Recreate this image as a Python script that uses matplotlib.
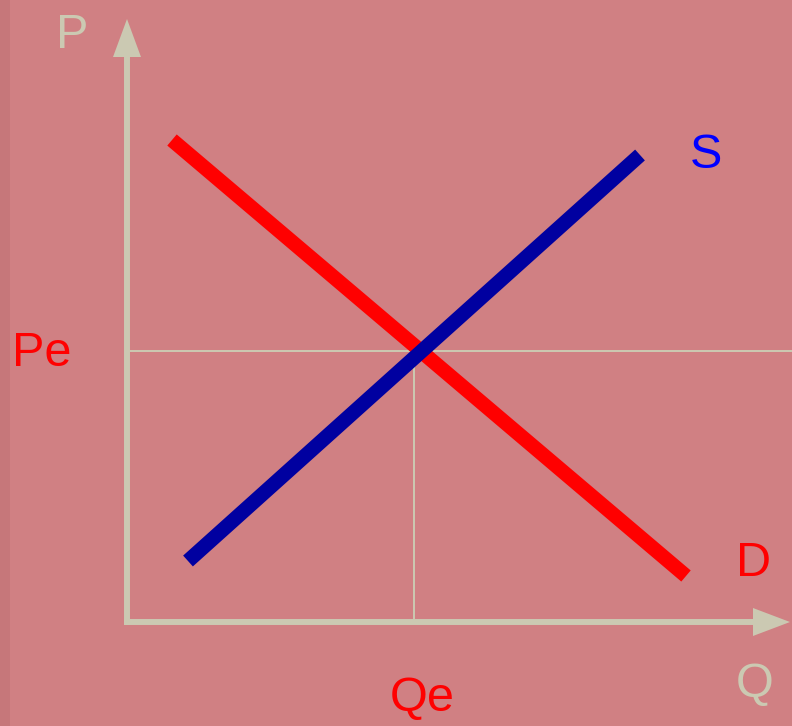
import matplotlib.pyplot as plt
from matplotlib.patches import Polygon

# chart coordinates (pixel-like units, y grows downward)
demand_q = [172, 686]
demand_p = [140, 576]
supply_q = [188, 640]
supply_p = [561, 155]
eq_q = 414
eq_p = 351
origin = (127, 622)

axis_color = "#cbc9b2"
bg = "#d08083"

fig = plt.figure(figsize=(7.92, 7.26), dpi=100)
fig.patch.set_facecolor(bg)
ax = fig.add_axes([0, 0, 1, 1])
ax.set_facecolor(bg)
ax.set_xlim(0, 792)
ax.set_ylim(726, 0)
ax.axis("off")

# slightly darker left edge
ax.axvspan(0, 10, color="#b86a6d", alpha=0.4, lw=0)

# axes with arrow heads
ax.plot([origin[0], origin[0]], [origin[1] + 3, 50], color=axis_color, lw=4.3, solid_capstyle="butt")
ax.plot([origin[0] - 3, 760], [origin[1], origin[1]], color=axis_color, lw=4.3, solid_capstyle="butt")
ax.add_patch(Polygon([[127, 19], [113, 57], [141, 57]], closed=True, color=axis_color, lw=0))
ax.add_patch(Polygon([[790, 622], [753, 608], [753, 636]], closed=True, color=axis_color, lw=0))

# equilibrium guides
ax.plot([origin[0], 792], [eq_p, eq_p], color=axis_color, lw=1.4)
ax.plot([eq_q, eq_q], [eq_p + 14, origin[1]], color=axis_color, lw=1.4)

# curves
ax.plot(demand_q, demand_p, color="#ff0000", lw=10.5, solid_capstyle="butt")
ax.plot(supply_q, supply_p, color="#0000a0", lw=10.5, solid_capstyle="butt")

font = "Liberation Sans"
kw = dict(fontsize=35, family=font, ha="center", va="center")
ax.text(72, 36, "P", color=axis_color, **kw)
ax.text(755, 684, "Q", color=axis_color, **kw)
ax.text(706, 155, "S", color="#0000ff", **kw)
ax.text(754, 563, "D", color="#ff0000", **kw)
ax.text(42, 353, "Pe", color="#ff0000", **kw)
ax.text(422, 698, "Qe", color="#ff0000", **kw)

fig.savefig("out.png", dpi=100, facecolor=bg)
